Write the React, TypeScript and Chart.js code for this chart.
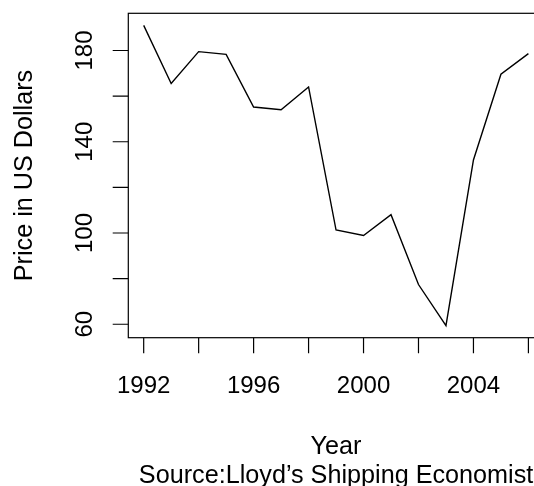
import React, { useEffect, useRef } from "react";
import { Chart, registerables } from "chart.js";

Chart.register(...registerables);

const years = [1992, 1993, 1994, 1995, 1996, 1997, 1998, 1999, 2000, 2001, 2002, 2003, 2004, 2005, 2006];
const prices = [191.0, 165.5, 179.5, 178.3, 155.2, 154.0, 164.0, 101.3, 98.9, 108.0, 77.4, 59.4, 132.0, 169.6, 178.6];

const xTickValues = [1992, 1994, 1996, 1998, 2000, 2002, 2004, 2006];
const xTickLabels = ["1992", "", "1996", "", "2000", "", "2004", ""];
const yTickValues = [60, 80, 100, 120, 140, 160, 180];
const yTickLabels = ["60", "", "100", "", "140", "", "180"];

const xTitle = "Year";
const subTitle = "Source:Lloyd\u2019s Shipping Economist";
const yTitle = "Price in US Dollars";

const TICK_FONT = '24px "Liberation Sans", Arial, Helvetica, sans-serif';
const TITLE_FONT = '25.2px "Liberation Sans", Arial, Helvetica, sans-serif';

const rAxesPlugin = {
  id: "rAxes",
  afterDraw(chart: any) {
    const ctx = chart.ctx as CanvasRenderingContext2D;
    const area = chart.chartArea;
    const xs = chart.scales.x;
    const ys = chart.scales.y;
    ctx.save();
    ctx.strokeStyle = "#000";
    ctx.fillStyle = "#000";
    ctx.lineWidth = 1.2;
    ctx.strokeRect(area.left, area.top, area.right - area.left, area.bottom - area.top);
    const tickLen = 15.6;
    ctx.beginPath();
    xTickValues.forEach((v) => {
      const px = xs.getPixelForValue(v);
      ctx.moveTo(px, area.bottom);
      ctx.lineTo(px, area.bottom + tickLen);
    });
    yTickValues.forEach((v) => {
      const py = ys.getPixelForValue(v);
      ctx.moveTo(area.left, py);
      ctx.lineTo(area.left - tickLen, py);
    });
    ctx.stroke();
    ctx.font = TICK_FONT;
    ctx.textAlign = "center";
    ctx.textBaseline = "alphabetic";
    xTickValues.forEach((v, i) => {
      const lab = xTickLabels[i];
      if (!lab) return;
      ctx.fillText(lab, xs.getPixelForValue(v), area.bottom + 55.5);
    });
    yTickValues.forEach((v, i) => {
      const lab = yTickLabels[i];
      if (!lab) return;
      ctx.save();
      ctx.translate(area.left - 36.6, ys.getPixelForValue(v));
      ctx.rotate(-Math.PI / 2);
      ctx.fillText(lab, 0, 0);
      ctx.restore();
    });
    ctx.font = TITLE_FONT;
    const cx = (area.left + area.right) / 2;
    const cy = (area.top + area.bottom) / 2;
    ctx.fillText(xTitle, cx, area.bottom + 115.8);
    ctx.fillText(subTitle, cx, area.bottom + 144.8);
    ctx.save();
    ctx.translate(31.5, cy);
    ctx.rotate(-Math.PI / 2);
    ctx.fillText(yTitle, 0, 0);
    ctx.restore();
    ctx.restore();
  },
};

export default function App() {
  const ref = useRef<HTMLCanvasElement | null>(null);
  useEffect(() => {
    if (!ref.current) return;
    const chart = new Chart(ref.current, {
      type: "line",
      data: {
        datasets: [
          {
            data: years.map((y, i) => ({ x: y, y: prices[i] })),
            borderColor: "#000",
            borderWidth: 1.4,
            pointRadius: 0,
            tension: 0,
            fill: false,
          },
        ],
      },
      options: {
        responsive: false,
        animation: false,
        layout: { padding: { left: 128.3, top: 13.3, right: 16.2, bottom: 148.3 } },
        plugins: { legend: { display: false }, tooltip: { enabled: false } },
        scales: {
          x: { type: "linear", min: 1991.44, max: 2006.56, display: false },
          y: { type: "linear", min: 54.1, max: 196.3, display: false },
        },
      },
      plugins: [rAxesPlugin],
    });
    return () => chart.destroy();
  }, []);
  return (
    <div
      style={{
        position: "fixed",
        left: 0,
        top: 0,
        width: 534,
        height: 486,
        overflow: "hidden",
        background: "#fff",
      }}
    >
      <canvas ref={ref} width={560} height={486} style={{ display: "block" }} />
    </div>
  );
}
